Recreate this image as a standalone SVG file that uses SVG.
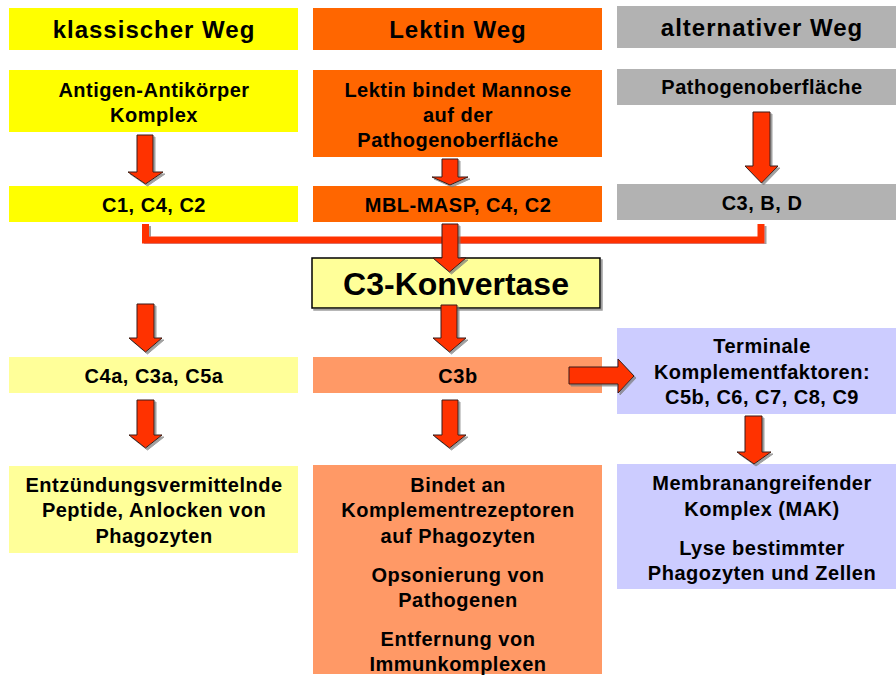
<svg xmlns="http://www.w3.org/2000/svg" width="896" height="675" viewBox="0 0 896 675">
<defs>
<filter id="sh" x="-20%" y="-20%" width="140%" height="140%">
<feDropShadow dx="2" dy="2" stdDeviation="0.6" flood-color="#777" flood-opacity="0.7"/>
</filter>
<style>
text{font-family:"Liberation Sans",Arial,sans-serif;font-weight:bold;fill:#000;text-anchor:middle}
.h{font-size:24px;letter-spacing:1px}
.b{font-size:20px;letter-spacing:0.5px}
.big{font-size:32px}
.yel{fill:#FFFF00}
.org{fill:#FF6600}
.gry{fill:#B2B2B2}
.lyel{fill:#FFFF99}
.sal{fill:#FF9966}
.lav{fill:#CCCCFF}
.arr{fill:#FF3300;stroke:#3a1a10;stroke-width:1;stroke-linejoin:miter;filter:url(#sh)}
.ln{fill:none;stroke:#FF3300;stroke-width:7;stroke-linejoin:miter;filter:url(#sh)}
</style>
</defs>
<rect width="896" height="675" fill="#fff"/>

<g id="h-klassisch"><rect class="yel" x="9" y="8" width="289" height="42"/><text class="h" x="154" y="38">klassischer Weg</text></g>
<g id="h-lektin"><rect class="org" x="313" y="8" width="289" height="42"/><text class="h" x="458" y="38">Lektin Weg</text></g>
<g id="h-alternativ"><rect class="gry" x="617" y="6" width="279" height="42"/><text class="h" x="762" y="36">alternativer Weg</text></g>

<g id="n-antigen"><rect class="yel" x="9" y="70" width="289" height="62"/><text class="b" x="154" y="97">Antigen-Antikörper</text><text class="b" x="154" y="122">Komplex</text></g>
<g id="n-lektinbindet"><rect class="org" x="313" y="70" width="289" height="87"/><text class="b" x="458" y="97">Lektin bindet Mannose</text><text class="b" x="458" y="122">auf der</text><text class="b" x="458" y="147">Pathogenoberfläche</text></g>
<g id="n-pathogen"><rect class="gry" x="617" y="69" width="279" height="36"/><text class="b" x="762" y="94">Pathogenoberfläche</text></g>

<g id="n-c1"><rect class="yel" x="9" y="186" width="289" height="36"/><text class="b" x="154" y="212">C1, C4, C2</text></g>
<g id="n-mbl"><rect class="org" x="313" y="186" width="289" height="36"/><text class="b" x="458" y="212">MBL-MASP, C4, C2</text></g>
<g id="n-c3bd"><rect class="gry" x="617" y="184" width="279" height="36"/><text class="b" x="762" y="210">C3, B, D</text></g>

<g id="n-c3konvertase"><rect x="312" y="258" width="288" height="50" fill="#FFFF99" stroke="#000" stroke-width="1.5" filter="url(#sh)"/><text class="big" x="456" y="295">C3-Konvertase</text></g>

<g id="n-c4a"><rect class="lyel" x="9" y="357" width="289" height="36"/><text class="b" x="154" y="383">C4a, C3a, C5a</text></g>
<g id="n-c3b"><rect class="sal" x="313" y="357" width="289" height="36"/><text class="b" x="458" y="383">C3b</text></g>
<g id="n-terminal"><rect class="lav" x="617" y="328" width="279" height="86"/><text class="b" x="762" y="353">Terminale</text><text class="b" x="762" y="379">Komplementfaktoren:</text><text class="b" x="762" y="404">C5b, C6, C7, C8, C9</text></g>

<g id="n-entz"><rect class="lyel" x="9" y="466" width="289" height="87"/><text class="b" x="154" y="492">Entzündungsvermittelnde</text><text class="b" x="154" y="517">Peptide, Anlocken von</text><text class="b" x="154" y="543">Phagozyten</text></g>
<g id="n-bindet"><rect class="sal" x="313" y="465" width="289" height="209"/><text class="b" x="458" y="492">Bindet an</text><text class="b" x="458" y="517">Komplementrezeptoren</text><text class="b" x="458" y="543">auf Phagozyten</text><text class="b" x="458" y="582">Opsonierung von</text><text class="b" x="458" y="607">Pathogenen</text><text class="b" x="458" y="646">Entfernung von</text><text class="b" x="458" y="671">Immunkomplexen</text></g>
<g id="n-mak"><rect class="lav" x="617" y="464" width="279" height="125"/><text class="b" x="762" y="490">Membranangreifender</text><text class="b" x="762" y="516">Komplex (MAK)</text><text class="b" x="762" y="555">Lyse bestimmter</text><text class="b" x="762" y="580">Phagozyten und Zellen</text></g>

<g id="connectors">
<path class="arr" d="M137,135 H153 V172 H163 L145.5,184 L128,172 H137 Z"/>
<path class="arr" d="M442,159 H458 V177 H468 L450,185 L432,177 H442 Z"/>
<path class="arr" d="M753,112 H770 V166 H778 L761.5,183 L745,166 H753 Z"/>
<path class="ln" d="M145.5,224 V240 H761 V224"/>
<path class="arr" d="M442,224 H458 V258 H466 L449.5,272 L433,258 H442 Z"/>
<path class="arr" d="M441,305 H457 V338 H466 L449.5,352 L433,338 H441 Z"/>
<path class="ln" d="M154,328.5 H442"/>
<path class="arr" d="M137,304 H154 V338 H162 L145.5,352 L129,338 H137 Z"/>
<path class="arr" d="M569,367 H618 V359 L634,376 L618,393 V384 H569 Z"/>
<path class="arr" d="M137,400 H154 V435 H162 L145.5,448 L129,435 H137 Z"/>
<path class="arr" d="M442,400 H458 V435 H466 L449.5,448 L433,435 H442 Z"/>
<path class="arr" d="M745,416 H762 V452 H771 L754,464 L737,452 H745 Z"/>
</g>
</svg>
